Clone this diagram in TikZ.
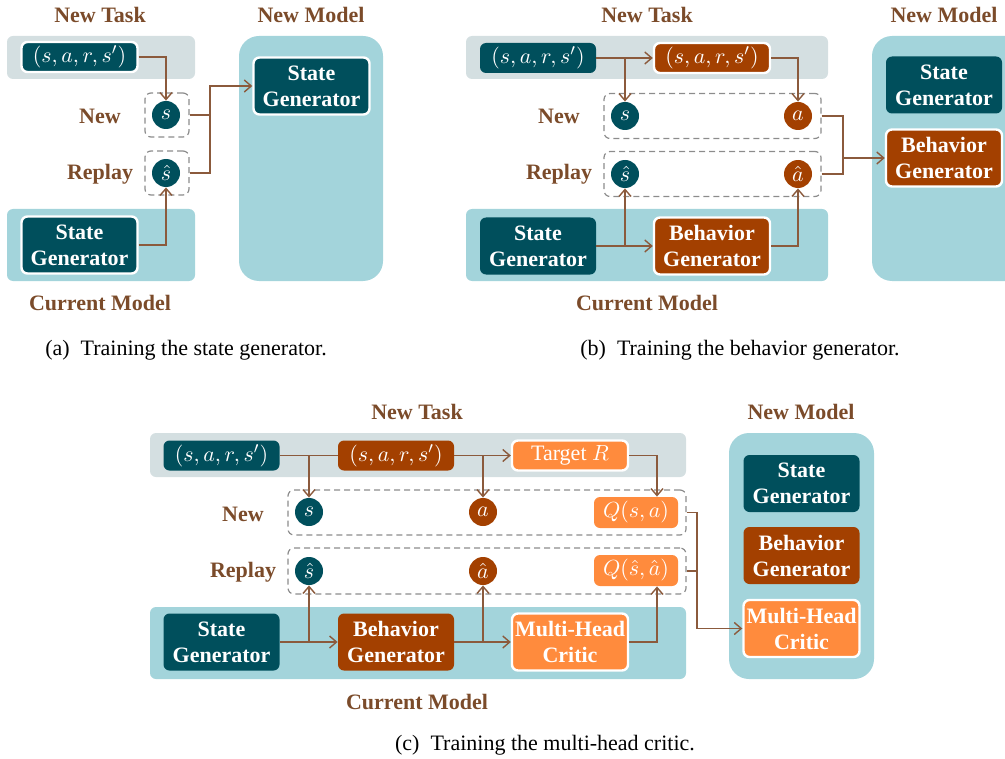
\documentclass[tikz,border=0pt]{standalone}
\usepackage[no-math]{fontspec}
\setmainfont{Liberation Serif}
\newfontfamily\tmsfont{Liberation Serif}
\usetikzlibrary{arrows.meta}
\definecolor{tealc}{HTML}{004F5C}
\definecolor{rustc}{HTML}{A34000}
\definecolor{peachc}{HTML}{FF8B3D}
\definecolor{bandb}{HTML}{A3D4DB}
\definecolor{bandg}{HTML}{D4DFE1}
\definecolor{labc}{HTML}{7B4B2A}
\definecolor{wirec}{HTML}{8B5A3C}
\newcommand{\fsz}{\tmsfont\fontsize{11}{13}\selectfont}
\tikzset{
  blk/.style={rounded corners=3pt, text=white, align=center, inner sep=0pt, font=\fsz\bfseries},
  tealblk/.style={blk, fill=tealc},
  rustblk/.style={blk, fill=rustc},
  peachblk/.style={blk, fill=peachc},
  gen/.style={minimum width=58pt, minimum height=28.5pt},
  tup/.style={minimum width=58pt, minimum height=15pt, font=\fsz},
  qbox/.style={minimum width=42pt, minimum height=15.5pt, font=\fsz},
  active/.style={draw=white, line width=1.2pt},
  dot/.style={circle, minimum size=14pt, inner sep=0pt, text=white, font=\fsz},
  slot/.style={draw=black!45, line width=0.6pt, dash pattern=on 3pt off 2pt, rounded corners=3pt, inner sep=0pt},
  hdr/.style={text=labc, font=\fsz\bfseries},
  capt/.style={font=\fsz},
  wire/.style={draw=wirec, line width=0.7pt},
  flow/.style={wire, -{Straight Barb[length=3.5pt,width=6pt]}},
}
\begin{document}
\begin{tikzpicture}[x=0.5pt,y=-0.5pt]
\clip (0,0) rectangle (1005,759);

% (a) state generator
\fill[bandg, rounded corners=3pt] (7,36) rectangle (195,79);
\fill[bandb, rounded corners=3pt] (7,209) rectangle (195,281);
\fill[bandb, rounded corners=10pt] (239,36) rectangle (383,281);
\node[hdr] (a-task) at (100,15) {New Task};
\node[hdr] (a-cur) at (100,303) {Current Model};
\node[hdr] (a-mod) at (311,15) {New Model};
\node[hdr] (a-newl) at (100,116) {New};
\node[hdr] (a-repl) at (100,174) {Replay};
\node[tealblk, tup, active] (a-tup) at (79.5,57) {$(s,a,r,s')$};
\node[slot, minimum width=22pt, minimum height=22pt] (a-new) at (167,115) {};
\node[slot, minimum width=22pt, minimum height=22pt] (a-rep) at (167,173) {};
\node[dot, fill=tealc] (a-s) at (166,115) {$s$};
\node[dot, fill=tealc] (a-sh) at (166,173) {$\hat{s}$};
\node[tealblk, gen, active] (a-sg) at (79.5,245) {State\\Generator};
\node[tealblk, gen, active] (a-nsg) at (311.5,86) {State\\Generator};
\coordinate (a-j) at (210,86);
\draw[flow] (a-tup.east) -| (a-s.north);
\draw[flow] (a-sg.east) -| (a-sh.south);
\draw[wire] (a-new.east) -- (a-new.east -| a-j);
\draw[flow] (a-rep.east) -| (a-j) -- (a-nsg.west);
\node[capt] (a-cap) at (186,350) {(a)\enspace Training the state generator.};

% (b) behavior generator
\fill[bandg, rounded corners=3pt] (466,36) rectangle (828,79);
\fill[bandb, rounded corners=3pt] (466,209) rectangle (828,281);
\fill[bandb, rounded corners=10pt] (872,36) rectangle (1030,281);
\node[hdr] (b-task) at (647,15) {New Task};
\node[hdr] (b-cur) at (647,303) {Current Model};
\node[hdr] (b-mod) at (944,15) {New Model};
\node[hdr] (b-newl) at (559,116) {New};
\node[hdr] (b-repl) at (559,174) {Replay};
\node[tealblk, tup] (b-tup1) at (538,58) {$(s,a,r,s')$};
\node[rustblk, tup, active] (b-tup2) at (712,58) {$(s,a,r,s')$};
\node[slot, minimum width=108.5pt, minimum height=22.5pt] (b-new) at (712.5,116) {};
\node[slot, minimum width=108.5pt, minimum height=22.5pt] (b-rep) at (712.5,174) {};
\node[dot, fill=tealc] (b-s) at (625,116) {$s$};
\node[dot, fill=rustc] (b-a) at (798,116) {$a$};
\node[dot, fill=tealc] (b-sh) at (625,174) {$\hat{s}$};
\node[dot, fill=rustc] (b-ah) at (798,174) {$\hat{a}$};
\node[tealblk, gen] (b-sg) at (538,246) {State\\Generator};
\node[rustblk, gen, active] (b-bg) at (712,246) {Behavior\\Generator};
\node[tealblk, gen] (b-nsg) at (944,85) {State\\Generator};
\node[rustblk, gen, active] (b-nbg) at (944,158) {Behavior\\Generator};
\coordinate (b-j) at (843,158);
\draw[flow] (b-tup1.east) -- (b-tup2.west);
\draw[flow] (b-tup1.east -| b-s) -- (b-s.north);
\draw[flow] (b-tup2.east) -| (b-a.north);
\draw[flow] (b-sg.east) -- (b-bg.west);
\draw[flow] (b-sg.east -| b-sh) -- (b-sh.south);
\draw[flow] (b-bg.east) -| (b-ah.south);
\draw[wire] (b-new.east) -| (b-j);
\draw[wire] (b-rep.east) -| (b-j);
\draw[flow] (b-j) -- (b-nbg.west);
\node[capt] (b-cap) at (740,350) {(b)\enspace Training the behavior generator.};

% (c) multi-head critic
\fill[bandg, rounded corners=3pt] (150,433) rectangle (686,477);
\fill[bandb, rounded corners=3pt] (150,607) rectangle (686,679);
\fill[bandb, rounded corners=10pt] (729,433) rectangle (874,679);
\node[hdr] (c-task) at (417,412) {New Task};
\node[hdr] (c-cur) at (417,702) {Current Model};
\node[hdr] (c-mod) at (801,412) {New Model};
\node[hdr] (c-newl) at (243,514) {New};
\node[hdr] (c-repl) at (243,572) {Replay};
\node[tealblk, tup] (c-tup1) at (221.5,455.5) {$(s,a,r,s')$};
\node[rustblk, tup] (c-tup2) at (396,455.5) {$(s,a,r,s')$};
\node[peachblk, tup, active] (c-tr) at (570,455.5) {Target $R$};
\node[slot, minimum width=199pt, minimum height=22.5pt] (c-new) at (487,512.5) {};
\node[slot, minimum width=199pt, minimum height=23pt] (c-rep) at (487,571) {};
\node[dot, fill=tealc] (c-s) at (309,512) {$s$};
\node[dot, fill=rustc] (c-a) at (483,512) {$a$};
\node[peachblk, qbox] (c-qa) at (636,512.5) {$Q(s,a)$};
\node[dot, fill=tealc] (c-sh) at (309,571) {$\hat{s}$};
\node[dot, fill=rustc] (c-ah) at (483,571) {$\hat{a}$};
\node[peachblk, qbox] (c-qh) at (636,570.5) {$Q(\hat{s},\hat{a})$};
\node[tealblk, gen] (c-sg) at (221.5,642) {State\\Generator};
\node[rustblk, gen] (c-bg) at (396,642) {Behavior\\Generator};
\node[peachblk, gen, active] (c-mh) at (570,642) {Multi-Head\\Critic};
\node[tealblk, gen] (c-nsg) at (801.5,483.5) {State\\Generator};
\node[rustblk, gen] (c-nbg) at (801.5,555.5) {Behavior\\Generator};
\node[peachblk, gen, active] (c-nmh) at (801.5,628.5) {Multi-Head\\Critic};
\coordinate (c-j) at (697,628.5);
\draw[wire] (c-tup1.east) -- (c-tup2.west);
\draw[flow] (c-tup1.east -| c-s) -- (c-s.north);
\draw[flow] (c-tup2.east) -- (c-tr.west);
\draw[flow] (c-tup2.east -| c-a) -- (c-a.north);
\draw[flow] (c-tr.east) -| ([xshift=10.5pt]c-qa.north);
\draw[flow] (c-sg.east) -- (c-bg.west);
\draw[flow] (c-sg.east -| c-sh) -- (c-sh.south);
\draw[flow] (c-bg.east) -- (c-mh.west);
\draw[flow] (c-bg.east -| c-ah) -- (c-ah.south);
\draw[flow] (c-mh.east) -| ([xshift=10.5pt]c-qh.south);
\draw[wire] (c-new.east) -| (c-j);
\draw[flow] (c-rep.east) -| (c-j) -- (c-nmh.west);
\node[capt] (c-cap) at (545,745) {(c)\enspace Training the multi-head critic.};
\end{tikzpicture}
\end{document}
